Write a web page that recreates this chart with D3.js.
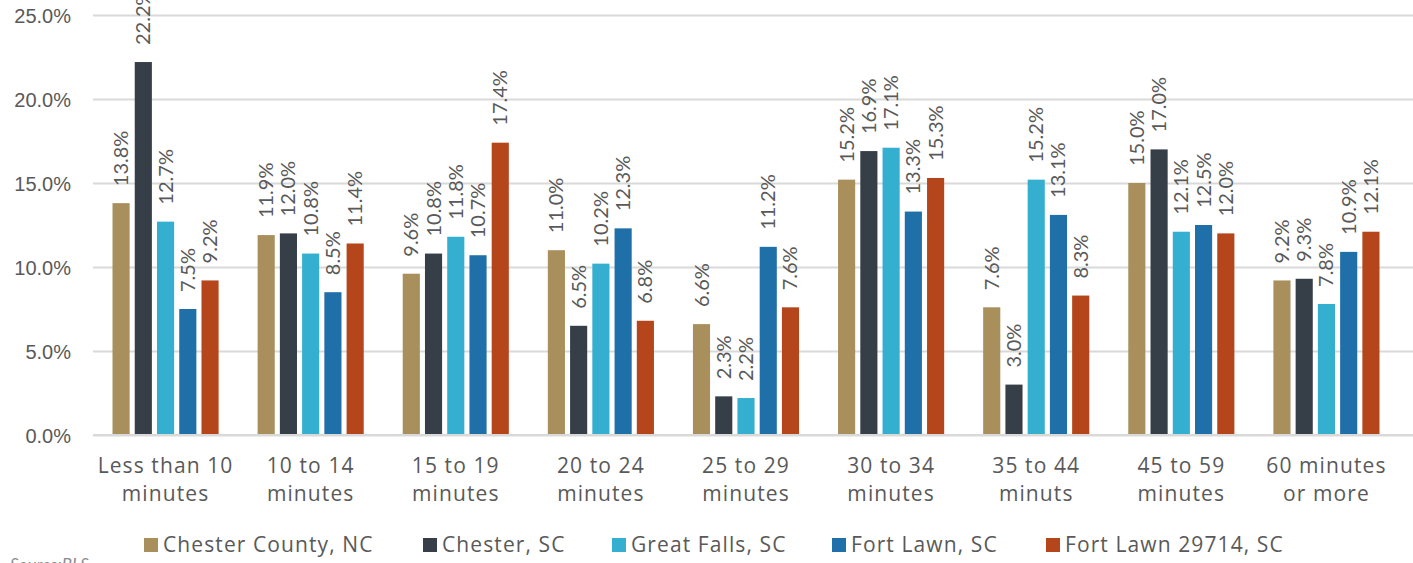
<!DOCTYPE html>
<html>
<head>
<meta charset="utf-8">
<script src="https://cdn.jsdelivr.net/npm/d3@7"></script>
<style>
  html, body { margin: 0; padding: 0; background: #fff; }
  svg { display: block; font-family: Lato, "Open Sans", sans-serif; }
  .wide { font-family: "Open Sans", Lato, sans-serif; letter-spacing: 1.1px; }
</style>
</head>
<body>
<svg id="chart" width="1413" height="563"></svg>
<script>
// Commute time categories (two-line labels)
const categories = [
  ["Less than 10", "minutes"],
  ["10 to 14", "minutes"],
  ["15 to 19", "minutes"],
  ["20 to 24", "minutes"],
  ["25 to 29", "minutes"],
  ["30 to 34", "minutes"],
  ["35 to 44", "minuts"],
  ["45 to 59", "minutes"],
  ["60 minutes", "or more"]
];
const seriesNames = ["Chester County, NC", "Chester, SC", "Great Falls, SC", "Fort Lawn, SC", "Fort Lawn 29714, SC"];
const chesterCounty = [13.8, 11.9, 9.6, 11.0, 6.6, 15.2, 7.6, 15.0, 9.2];
const chesterSC     = [22.2, 12.0, 10.8, 6.5, 2.3, 16.9, 3.0, 17.0, 9.3];
const greatFalls    = [12.7, 10.8, 11.8, 10.2, 2.2, 17.1, 15.2, 12.1, 7.8];
const fortLawn      = [7.5, 8.5, 10.7, 12.3, 11.2, 13.3, 13.1, 12.5, 10.9];
const fortLawnZip   = [9.2, 11.4, 17.4, 6.8, 7.6, 15.3, 8.3, 12.0, 12.1];
const yTicks = [0, 5, 10, 15, 20, 25];
const colors = ["#A88F5C", "#363E47", "#34AFCF", "#1F6FA8", "#B5451B"];

const series = [chesterCounty, chesterSC, greatFalls, fortLawn, fortLawnZip];

const svg = d3.select("#chart");
const plotLeft = 93, plotRight = 1399, plotTop = 15, plotBottom = 435;
const textColor = "#595959";

const x0 = d3.scaleBand().domain(d3.range(categories.length)).range([plotLeft, plotRight]).paddingInner(0).paddingOuter(0);
const x1 = d3.scaleBand().domain(d3.range(series.length)).range([19.5, x0.bandwidth() - 19.5]).paddingInner(0.23).paddingOuter(0);
const y = d3.scaleLinear().domain([0, 25]).range([plotBottom, plotTop]);

// Gridlines and y axis labels
const yAxis = d3.axisLeft(y).tickValues(yTicks).tickFormat(d => d3.format(".1f")(d) + "%").tickSize(-(1413 - plotLeft)).tickPadding(22);
const gy = svg.append("g").attr("transform", `translate(${plotLeft},0)`).call(yAxis);
gy.select(".domain").remove();
gy.selectAll(".tick line").attr("stroke", "#d9d9d9").attr("stroke-width", 2);
gy.selectAll(".tick text").attr("fill", textColor).style("font-size", "20px").attr("dy", "0.35em");

// Bars with rotated value labels
const groups = svg.append("g").selectAll("g").data(categories).join("g")
  .attr("transform", (d, i) => `translate(${x0(i)},0)`);

groups.each(function(c, ci) {
  const g = d3.select(this);
  series.forEach((s, si) => {
    const v = s[ci];
    const bx = x1(si);
    g.append("rect")
      .attr("x", bx).attr("y", y(v))
      .attr("width", x1.bandwidth()).attr("height", y(0) - y(v))
      .attr("fill", colors[si]);
    const cx = bx + x1.bandwidth() / 2;
    g.append("text")
      .attr("transform", `translate(${cx},${y(v) - 17}) rotate(-90)`)
      .attr("text-anchor", "start")
      .attr("dy", "0.35em")
      .attr("fill", textColor)
      .style("font-size", "20px")
      .text(v.toFixed(1) + "%");
  });
});

// Baseline
svg.append("line").attr("x1", plotLeft).attr("x2", 1413).attr("y1", plotBottom).attr("y2", plotBottom)
  .attr("stroke", "#d9d9d9").attr("stroke-width", 2);

// Category labels
const xl = svg.append("g").attr("class", "wide");
categories.forEach((c, i) => {
  const cx = x0(i) + x0.bandwidth() / 2;
  const t = xl.append("text")
    .attr("text-anchor", "middle")
    .attr("fill", textColor)
    .style("font-size", "21px");
  c.forEach((line, li) => {
    t.append("tspan").attr("x", cx).attr("y", 473 + li * 28).text(line);
  });
});

// Legend
const legendX = [144, 423, 612, 832, 1046];
const legend = svg.append("g").attr("class", "wide");
seriesNames.forEach((n, i) => {
  legend.append("rect").attr("x", legendX[i]).attr("y", 538).attr("width", 14).attr("height", 14).attr("fill", colors[i]);
  legend.append("text").attr("x", legendX[i] + 19).attr("y", 552)
    .attr("fill", textColor).style("font-size", "21px").text(n);
});

// Source note
svg.append("text").attr("x", 10).attr("y", 571).attr("fill", "#8c8c8c")
  .style("font-size", "17px").style("font-style", "italic").text("Source:BLS");
</script>
</body>
</html>
